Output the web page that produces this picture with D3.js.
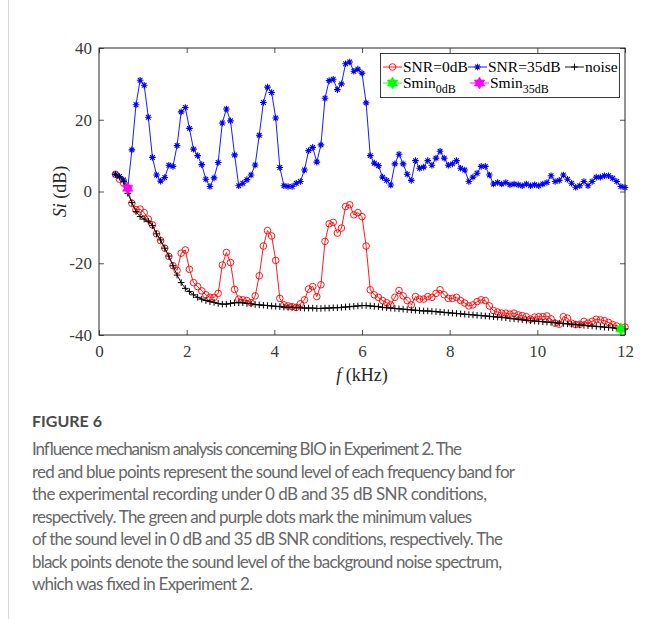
<!DOCTYPE html>
<html>
<head>
<meta charset="utf-8">
<script src="https://cdn.jsdelivr.net/npm/d3@7"></script>
<style>
  body { margin: 0; background: #fff; }
  svg { display: block; }
</style>
</head>
<body>
<div id="chart"></div>
<script>
// frequency bins (kHz)
const freq = [
  0.375, 0.469, 0.563, 0.656, 0.75, 0.844, 0.938, 1.031, 1.125, 1.219,
  1.313, 1.406, 1.5, 1.594, 1.688, 1.781, 1.875, 1.969, 2.063, 2.156,
  2.25, 2.344, 2.438, 2.531, 2.625, 2.719, 2.813, 2.906, 3.0, 3.094,
  3.188, 3.281, 3.375, 3.469, 3.563, 3.656, 3.75, 3.844, 3.938, 4.031,
  4.125, 4.219, 4.313, 4.406, 4.5, 4.594, 4.688, 4.781, 4.875, 4.969,
  5.063, 5.156, 5.25, 5.344, 5.438, 5.531, 5.625, 5.719, 5.813, 5.906,
  6.0, 6.094, 6.188, 6.281, 6.375, 6.469, 6.563, 6.656, 6.75, 6.844,
  6.938, 7.031, 7.125, 7.219, 7.313, 7.406, 7.5, 7.594, 7.688, 7.781,
  7.875, 7.969, 8.063, 8.156, 8.25, 8.344, 8.438, 8.531, 8.625, 8.719,
  8.813, 8.906, 9.0, 9.094, 9.188, 9.281, 9.375, 9.469, 9.563, 9.656,
  9.75, 9.844, 9.938, 10.031, 10.125, 10.219, 10.313, 10.406, 10.5, 10.594,
  10.688, 10.781, 10.875, 10.969, 11.063, 11.156, 11.25, 11.344, 11.438, 11.531,
  11.625, 11.719, 11.813, 11.906, 12.0
];

// SNR = 0 dB (red)
const snr0 = [
  4.8, 3.4, 2.3, 0.9, -3.3, -5.1, -4.9, -5.9, -7.7, -9.3,
  -11.8, -13.7, -15.8, -18.1, -20.7, -22.0, -17.2, -16.3, -21.7, -25.4,
  -26.5, -27.7, -28.8, -29.5, -29.5, -28.4, -20.5, -17.0, -19.8, -27.3,
  -30.0, -30.2, -30.4, -31.0, -29.1, -23.5, -15.2, -10.9, -12.4, -19.2,
  -29.8, -31.6, -31.9, -32.1, -32.3, -31.3, -30.2, -27.2, -26.5, -29.3,
  -26.0, -13.9, -9.0, -8.6, -11.6, -10.2, -4.2, -3.7, -6.5, -5.9,
  -7.0, -15.2, -27.4, -28.8, -29.5, -30.4, -31.0, -31.6, -29.5, -27.6,
  -29.1, -30.4, -31.6, -29.3, -30.0, -30.0, -29.3, -29.5, -28.4, -27.4,
  -28.8, -29.8, -29.8, -29.5, -30.4, -31.1, -31.9, -31.6, -30.7, -30.2,
  -30.4, -31.9, -33.2, -33.6, -33.9, -33.9, -34.2, -33.9, -34.4, -34.6,
  -34.9, -35.6, -35.0, -34.9, -34.9, -34.7, -35.5, -36.7, -37.0, -34.9,
  -35.3, -36.7, -37.1, -37.0, -36.2, -36.7, -36.2, -35.6, -35.8, -36.0,
  -36.5, -37.1, -37.5, -38.3, -37.8
];

// SNR = 35 dB (blue)
const snr35 = [
  4.8, 4.2, 3.2, 0.9, 11.6, 24.2, 31.0, 29.6, 20.7, 9.5,
  4.6, 2.9, 3.9, 7.3, 7.0, 12.8, 22.2, 23.4, 17.6, 11.8,
  10.0, 7.5, 3.4, 1.4, 3.8, 8.1, 19.1, 23.0, 19.7, 10.2,
  1.6, 2.3, 3.3, 4.6, 7.4, 15.7, 24.8, 29.1, 27.6, 20.5,
  6.7, 1.6, 1.4, 1.4, 2.3, 2.8, 6.0, 11.4, 12.3, 8.2,
  13.0, 26.0, 30.9, 31.3, 28.4, 30.0, 35.6, 36.1, 33.5, 34.1,
  33.0, 24.7, 10.0, 7.9, 7.2, 4.0, 3.1, 1.8, 7.7, 10.4,
  7.7, 4.8, 3.1, 8.6, 6.5, 6.8, 8.6, 7.3, 9.3, 11.2,
  9.3, 7.3, 7.7, 8.6, 6.5, 6.0, 2.8, 4.0, 5.1, 7.0,
  7.0, 4.6, 2.1, 2.5, 2.1, 2.5, 1.9, 2.1, 1.9, 1.6,
  2.1, 1.6, 1.9, 1.6, 2.1, 2.5, 4.4, 2.8, 3.1, 4.6,
  3.4, 2.3, 1.2, 1.6, 2.8, 1.6, 2.8, 4.0, 4.0, 4.4,
  4.4, 3.7, 2.8, 1.4, 1.1
];

// background noise (black)
const noise = [
  4.8, 4.0, 2.8, -0.5, -3.1, -5.6, -7.0, -7.7, -8.3, -9.5,
  -11.8, -13.5, -15.8, -18.0, -20.7, -23.3, -25.4, -27.0, -27.9, -28.8,
  -29.5, -30.0, -30.4, -30.7, -30.9, -31.2, -31.4, -31.4, -31.2, -31.0,
  -31.0, -31.0, -31.2, -31.3, -31.5, -31.6, -31.7, -31.8, -31.9, -32.0,
  -32.1, -32.2, -32.3, -32.3, -32.4, -32.4, -32.5, -32.5, -32.5, -32.6,
  -32.6, -32.5, -32.5, -32.4, -32.4, -32.3, -32.2, -32.1, -32.0, -31.9,
  -31.8, -31.8, -31.9, -32.0, -32.1, -32.3, -32.4, -32.5, -32.6, -32.7,
  -32.8, -32.9, -33.0, -33.1, -33.2, -33.3, -33.3, -33.4, -33.5, -33.6,
  -33.7, -33.8, -33.9, -34.0, -34.1, -34.2, -34.3, -34.4, -34.5, -34.6,
  -34.7, -34.8, -34.9, -35.0, -35.1, -35.2, -35.4, -35.5, -35.6, -35.8,
  -35.9, -36.0, -36.1, -36.2, -36.3, -36.4, -36.5, -36.6, -36.7, -36.8,
  -36.9, -37.0, -37.1, -37.2, -37.3, -37.4, -37.5, -37.6, -37.7, -37.8,
  -37.9, -38.0, -38.1, -38.2, -38.3
];

// minimum points
const sminZero = [[11.906, -38.3]];
const sminFull = [[0.656, 0.9]];

const X_TICKS = [0, 2, 4, 6, 8, 10, 12];
const Y_TICKS = [-40, -20, 0, 20, 40];

const captionTitle = "FIGURE 6";
const captionLines = [
  "Influence mechanism analysis concerning BIO in Experiment 2. The",
  "red and blue points represent the sound level of each frequency band for",
  "the experimental recording under 0 dB and 35 dB SNR conditions,",
  "respectively. The green and purple dots mark the minimum values",
  "of the sound level in 0 dB and 35 dB SNR conditions, respectively. The",
  "black points denote the sound level of the background noise spectrum,",
  "which was fixed in Experiment 2."
];
const captionWidths = [430, 483, 455, 440, 471, 470, 221];

const W = 661, H = 619;
const PLOT = { left: 99, right: 625, top: 48, bottom: 335 };
const SERIF = "Liberation Serif, Times New Roman, serif";

const svg = d3.select("#chart").append("svg")
  .attr("width", W).attr("height", H);

// page border line on the left
svg.append("line")
  .attr("x1", 8.5).attr("x2", 8.5).attr("y1", 0).attr("y2", H)
  .attr("stroke", "#d6d6d6").attr("stroke-width", 1);

const xScale = d3.scaleLinear().domain([0, 12]).range([PLOT.left, PLOT.right]);
const yScale = d3.scaleLinear().domain([-40, 40]).range([PLOT.bottom, PLOT.top]);

// hexagram marker path
function hexagram (R) {
  const r = R / Math.sqrt(3);
  const pts = [];
  for (let i = 0; i < 12; i++) {
    const a = -Math.PI / 2 + i * Math.PI / 6;
    const rr = i % 2 === 0 ? R : r;
    pts.push([rr * Math.cos(a), rr * Math.sin(a)]);
  }
  return "M" + pts.map(p => p[0].toFixed(2) + "," + p[1].toFixed(2)).join("L") + "Z";
}
const plusPath = s => `M${-s},0L${s},0M0,${-s}L0,${s}`;
const starPath = s => {
  const d = s * 0.707;
  return `M${-s},0L${s},0M0,${-s}L0,${s}M${-d},${-d}L${d},${d}M${-d},${d}L${d},${-d}`;
};

const line = d3.line()
  .x(d => xScale(d[0]))
  .y(d => yScale(d[1]));

const plot = svg.append("g");

function drawSeries (vals, color, marker) {
  const pts = freq.map((f, i) => [f, vals[i]]);
  plot.append("path")
    .datum(pts)
    .attr("fill", "none")
    .attr("stroke", color)
    .attr("stroke-width", 0.9)
    .attr("d", line);
  const g = plot.append("g");
  if (marker === "circle") {
    g.selectAll("circle").data(pts).enter().append("circle")
      .attr("cx", d => xScale(d[0]))
      .attr("cy", d => yScale(d[1]))
      .attr("r", 3.3)
      .attr("fill", "none")
      .attr("stroke", color)
      .attr("stroke-width", 0.9);
  } else if (marker === "star") {
    g.selectAll("path").data(pts).enter().append("path")
      .attr("transform", d => `translate(${xScale(d[0])},${yScale(d[1])})`)
      .attr("d", starPath(3.3))
      .attr("stroke", color)
      .attr("stroke-width", 1.1);
  } else {
    g.selectAll("path").data(pts).enter().append("path")
      .attr("transform", d => `translate(${xScale(d[0])},${yScale(d[1])})`)
      .attr("d", plusPath(3.3))
      .attr("stroke", color)
      .attr("stroke-width", 1);
  }
}

drawSeries(snr0, "#ff0000", "circle");
drawSeries(snr35, "#0000ff", "star");
drawSeries(noise, "#000000", "plus");

function drawHex (data, color) {
  plot.selectAll(null).data(data).enter().append("path")
    .attr("transform", d => `translate(${xScale(d[0])},${yScale(d[1])})`)
    .attr("d", hexagram(6))
    .attr("fill", color)
    .attr("stroke", color)
    .attr("stroke-width", 0.6);
}
drawHex(sminZero, "#00ff00");
drawHex(sminFull, "#ff00ff");

// axes (ticks inward, box on)
const axisColor = "#262626";
function styleAxis (g) {
  g.attr("font-family", SERIF).attr("font-size", 17);
  g.select(".domain").remove();
  g.selectAll(".tick line").attr("stroke", axisColor).attr("stroke-width", 0.8);
  g.selectAll(".tick text")
    .attr("fill", "#3a3a3a")
    .attr("font-family", SERIF)
    .attr("font-size", 17)
    .attr("font-weight", 400);
}

svg.append("g")
  .attr("transform", `translate(0,${PLOT.bottom})`)
  .call(d3.axisBottom(xScale).tickValues(X_TICKS).tickSizeInner(-5).tickSizeOuter(0)
    .tickPadding(10).tickFormat(d => String(d)))
  .call(styleAxis);
svg.append("g")
  .attr("transform", `translate(0,${PLOT.top})`)
  .call(d3.axisTop(xScale).tickValues(X_TICKS).tickSizeInner(-5).tickSizeOuter(0).tickFormat(""))
  .call(styleAxis);
svg.append("g")
  .attr("transform", `translate(${PLOT.left},0)`)
  .call(d3.axisLeft(yScale).tickValues(Y_TICKS).tickSizeInner(-5).tickSizeOuter(0)
    .tickPadding(7).tickFormat(d => String(d)))
  .call(styleAxis);
svg.append("g")
  .attr("transform", `translate(${PLOT.right},0)`)
  .call(d3.axisRight(yScale).tickValues(Y_TICKS).tickSizeInner(-5).tickSizeOuter(0).tickFormat(""))
  .call(styleAxis);

svg.append("rect")
  .attr("x", PLOT.left).attr("y", PLOT.top)
  .attr("width", PLOT.right - PLOT.left).attr("height", PLOT.bottom - PLOT.top)
  .attr("fill", "none").attr("stroke", axisColor).attr("stroke-width", 1);

// axis labels
const yLab = svg.append("text")
  .attr("transform", `translate(66,${(PLOT.top + PLOT.bottom) / 2}) rotate(-90)`)
  .attr("text-anchor", "middle")
  .attr("fill", axisColor)
  .attr("font-family", SERIF).attr("font-size", 18);
yLab.append("tspan").attr("font-style", "italic").text("Si");
yLab.append("tspan").text(" (dB)");

const xLab = svg.append("text")
  .attr("x", (PLOT.left + PLOT.right) / 2).attr("y", 381)
  .attr("text-anchor", "middle")
  .attr("fill", axisColor)
  .attr("font-family", SERIF).attr("font-size", 18);
xLab.append("tspan").attr("font-style", "italic").text("f");
xLab.append("tspan").text(" (kHz)");

// legend
const legend = svg.append("g");
legend.append("rect")
  .attr("x", 380.5).attr("y", 53.5).attr("width", 239).attr("height", 44)
  .attr("fill", "#fff").attr("stroke", axisColor).attr("stroke-width", 0.9);

const legendItems = [
  { x: 383, y: 67, color: "#ff0000", marker: "circle", label: "SNR=0dB" },
  { x: 468, y: 67, color: "#0000ff", marker: "star", label: "SNR=35dB" },
  { x: 565, y: 67, color: "#000000", marker: "plus", label: "noise" },
  { x: 383, y: 83, color: "#00ff00", marker: "hex", label: "Smin", sub: "0dB" },
  { x: 470, y: 83, color: "#ff00ff", marker: "hex", label: "Smin", sub: "35dB" }
];
legendItems.forEach(it => {
  const g = legend.append("g");
  g.append("line")
    .attr("x1", it.x).attr("x2", it.x + 19)
    .attr("y1", it.y).attr("y2", it.y)
    .attr("stroke", it.color).attr("stroke-width", 0.9);
  const cx = it.x + 9.5;
  if (it.marker === "circle") {
    g.append("circle").attr("cx", cx).attr("cy", it.y).attr("r", 3.3)
      .attr("fill", "none").attr("stroke", it.color).attr("stroke-width", 0.9);
  } else if (it.marker === "star") {
    g.append("path").attr("transform", `translate(${cx},${it.y})`)
      .attr("d", starPath(3.3)).attr("stroke", it.color).attr("stroke-width", 1.1);
  } else if (it.marker === "plus") {
    g.append("path").attr("transform", `translate(${cx},${it.y})`)
      .attr("d", plusPath(3.3)).attr("stroke", it.color).attr("stroke-width", 1);
  } else {
    g.append("path").attr("transform", `translate(${cx},${it.y})`)
      .attr("d", hexagram(6)).attr("fill", it.color).attr("stroke", it.color).attr("stroke-width", 0.6);
  }
  const t = g.append("text")
    .attr("x", it.x + 20).attr("y", it.y + 5)
    .attr("fill", "#000")
    .attr("font-family", SERIF).attr("font-size", 15.5);
  t.append("tspan").text(it.label);
  if (it.sub) {
    t.append("tspan").attr("dy", 5).attr("font-size", 12).text(it.sub);
  }
});

// caption
svg.append("text")
  .attr("x", 32).attr("y", 427)
  .attr("fill", "#4a4a4a")
  .attr("font-family", "Lato, Open Sans, sans-serif")
  .attr("font-size", 16)
  .attr("font-weight", 700)
  .text(captionTitle);

svg.selectAll(".cap").data(captionLines).enter().append("text")
  .attr("class", "cap")
  .attr("x", 32)
  .attr("y", (d, i) => 455 + i * 22.5)
  .attr("textLength", (d, i) => captionWidths[i])
  .attr("lengthAdjust", "spacing")
  .attr("fill", "#676767")
  .attr("font-family", "Lato, Open Sans, sans-serif")
  .attr("font-size", 17)
  .text(d => d);
</script>
</body>
</html>
